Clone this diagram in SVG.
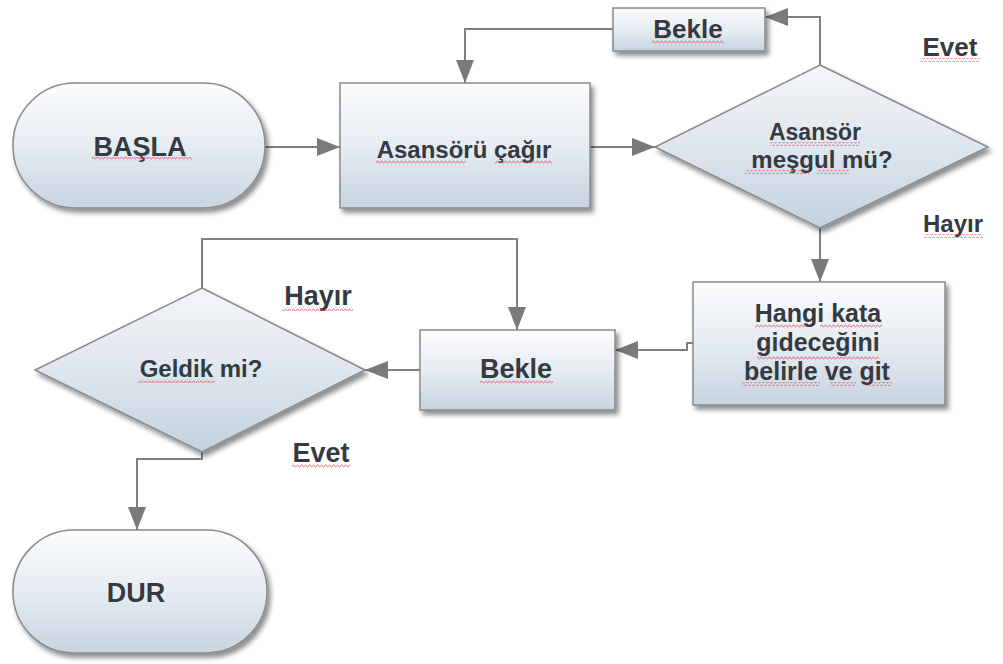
<svg xmlns="http://www.w3.org/2000/svg" width="1003" height="664" viewBox="0 0 1003 664">
  <defs>
    <linearGradient id="boxFill" x1="0" y1="0" x2="0" y2="1">
      <stop offset="0" stop-color="#fbfcfd"/>
      <stop offset="0.5" stop-color="#e6ecf2"/>
      <stop offset="1" stop-color="#c7d4e0"/>
    </linearGradient>
    <linearGradient id="diaFill" x1="0" y1="0" x2="0" y2="1">
      <stop offset="0" stop-color="#f4f6f8"/>
      <stop offset="0.5" stop-color="#dfe6ed"/>
      <stop offset="1" stop-color="#c3d2e0"/>
    </linearGradient>
    <filter id="shadow" x="-10%" y="-10%" width="130%" height="130%">
      <feDropShadow dx="3" dy="4" stdDeviation="2.5" flood-color="#000" flood-opacity="0.45"/>
    </filter>
    <marker id="arrow" markerUnits="userSpaceOnUse" markerWidth="24" markerHeight="20" viewBox="0 0 24 20" refX="23" refY="10" orient="auto">
      <path d="M0,1 L23,10 L0,19 Z" fill="#7a7a7a"/>
    </marker>
    <pattern id="squig" width="4" height="4" patternUnits="userSpaceOnUse">
      <polyline points="0,3 1,1 2,1 3,3 4,3" fill="none" stroke="#d0485c" stroke-width="0.8" opacity="0.75"/>
    </pattern>
    <style>
      .shape { stroke: #8a8a8a; stroke-width: 1.5; filter: url(#shadow); }
      .box { fill: url(#boxFill); }
      .dia { fill: url(#diaFill); }
      .label { font-family: "Liberation Sans", Arial, sans-serif; font-weight: bold; fill: #353a42; text-anchor: middle; }
      .conn { fill: none; stroke: #808080; stroke-width: 2; }
      .arrowed { marker-end: url(#arrow); }
      .sq { fill: url(#squig); }
    </style>
  </defs>

  <rect width="1003" height="664" fill="#ffffff"/>

  <!-- connectors -->
  <g id="connectors">
    <path class="conn arrowed" d="M265,147 L340,147"/>
    <path class="conn arrowed" d="M590,147 L655,147"/>
    <path class="conn arrowed" d="M820,65 L820,17 L765,17"/>
    <path class="conn arrowed" d="M613,29 L465,29 L465,83"/>
    <path class="conn arrowed" d="M820,228 L820,282"/>
    <path class="conn arrowed" d="M693,343 L687,343 L687,350 L615,350"/>
    <path class="conn arrowed" d="M420,370 L365,370"/>
    <path class="conn arrowed" d="M202,288 L202,239 L517,239 L517,330"/>
    <path class="conn arrowed" d="M202,452 L202,459 L137,459 L137,530"/>
  </g>

  <!-- start -->
  <g id="node-basla">
    <rect class="shape box" x="13" y="83" width="252" height="125" rx="62" ry="62"/>
    <text class="label" x="140" y="156" font-size="27">BAŞLA</text>
  </g>

  <!-- call the lift -->
  <g id="node-cagir">
    <rect class="shape box" x="340" y="83" width="250" height="125"/>
    <text class="label" x="464" y="158" font-size="24">Asansörü çağır</text>
  </g>

  <!-- busy? -->
  <g id="node-mesgul">
    <polygon class="shape dia" points="820,65 988,147 820,228 655,147"/>
    <text class="label" x="815" y="140" font-size="23">Asansör</text>
    <text class="label" x="822" y="168" font-size="24">meşgul mü?</text>
  </g>

  <!-- wait (top) -->
  <g id="node-bekle-top">
    <rect class="shape box" x="613" y="8" width="152" height="43"/>
    <text class="label" x="688" y="38" font-size="26">Bekle</text>
  </g>

  <!-- choose floor -->
  <g id="node-hangi">
    <rect class="shape box" x="693" y="282" width="252" height="123"/>
    <text class="label" x="818" y="322" font-size="25">Hangi kata</text>
    <text class="label" x="818" y="351" font-size="25">gideceğini</text>
    <text class="label" x="817" y="380" font-size="25">belirle ve git</text>
  </g>

  <!-- wait (middle) -->
  <g id="node-bekle">
    <rect class="shape box" x="420" y="330" width="195" height="80"/>
    <text class="label" x="516" y="378" font-size="27">Bekle</text>
  </g>

  <!-- arrived? -->
  <g id="node-geldik">
    <polygon class="shape dia" points="202,288 365,370 202,452 35,370"/>
    <text class="label" x="201" y="377" font-size="24">Geldik mi?</text>
  </g>

  <!-- stop -->
  <g id="node-dur">
    <rect class="shape box" x="13" y="530" width="254" height="123" rx="61" ry="61"/>
    <text class="label" x="136" y="602" font-size="27">DUR</text>
  </g>

  <!-- branch labels -->
  <g id="labels">
    <text class="label" x="950" y="56" font-size="26">Evet</text>
    <text class="label" x="953" y="232" font-size="24">Hayır</text>
    <text class="label" x="318" y="305" font-size="27">Hayır</text>
    <text class="label" x="321" y="462" font-size="27">Evet</text>
  </g>

  <!-- spell-check underlines -->
  <g id="squiggles">
    <rect class="sq" x="92" y="157" width="100" height="4"/>
    <rect class="sq" x="376" y="160" width="90" height="4"/>
    <rect class="sq" x="495" y="160" width="57" height="4"/>
    <rect class="sq" x="770" y="142" width="90" height="4"/>
    <rect class="sq" x="745" y="170" width="64" height="4"/>
    <rect class="sq" x="817" y="170" width="32" height="4"/>
    <rect class="sq" x="920" y="58" width="60" height="4"/>
    <rect class="sq" x="924" y="234" width="59" height="4"/>
    <rect class="sq" x="652" y="40" width="72" height="4"/>
    <rect class="sq" x="755" y="324" width="52" height="4"/>
    <rect class="sq" x="820" y="324" width="62" height="4"/>
    <rect class="sq" x="757" y="356" width="122" height="4"/>
    <rect class="sq" x="742" y="382" width="78" height="4"/>
    <rect class="sq" x="830" y="382" width="26" height="4"/>
    <rect class="sq" x="866" y="382" width="26" height="4"/>
    <rect class="sq" x="480" y="380" width="73" height="4"/>
    <rect class="sq" x="138" y="379" width="77" height="4"/>
    <rect class="sq" x="282" y="307" width="71" height="4"/>
    <rect class="sq" x="292" y="464" width="58" height="4"/>
  </g>
</svg>
